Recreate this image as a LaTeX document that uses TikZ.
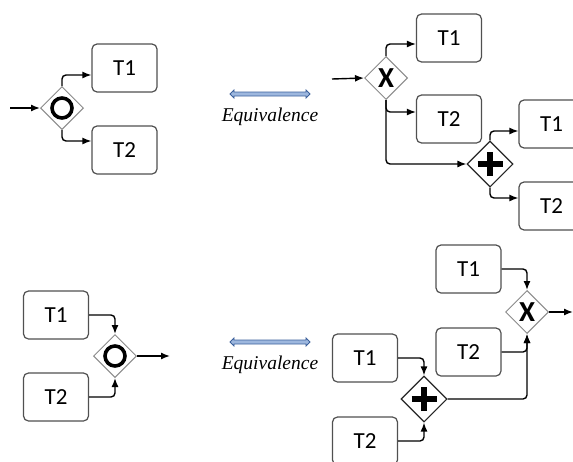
\documentclass[tikz,border=0pt]{standalone}
\usepackage{fontspec}
\setsansfont{Carlito}
\newfontfamily\eqfont{Liberation Serif}
\usetikzlibrary{arrows.meta, positioning, shapes.geometric, shapes.arrows}

\definecolor{boxline}{HTML}{505050}
\definecolor{gwline}{HTML}{8A8A8A}
\definecolor{eqfill}{HTML}{9DB7DE}
\definecolor{eqline}{HTML}{3C619C}

\begin{document}
\begin{tikzpicture}[
  x=1pt, y=-1pt,
  task/.style={rectangle, draw=boxline, line width=1.2pt, rounded corners=5pt,
               fill=white, minimum width=65pt, minimum height=48pt,
               font=\sffamily\fontsize{23}{23}\selectfont, inner sep=0pt},
  gw/.style={diamond, draw=gwline, line width=1pt, fill=white, aspect=1,
             minimum width=43pt, minimum height=43pt, inner sep=0pt},
  orgw/.style={gw, path picture={
               \draw[black, line width=3.6pt] (path picture bounding box.center) circle[radius=10pt];}},
  xorgw/.style={gw, font=\sffamily\bfseries\fontsize{29}{29}\selectfont},
  andgw/.style={gw, draw=black!85, line width=1.1pt, minimum width=46pt, minimum height=46pt,
               path picture={
               \draw[black, line width=6pt] ([xshift=-12.5pt]path picture bounding box.center)
                  -- ([xshift=12.5pt]path picture bounding box.center);
               \draw[black, line width=6pt] ([yshift=-12pt]path picture bounding box.center)
                  -- ([yshift=12pt]path picture bounding box.center);}},
  eqarrow/.style={double arrow, draw=eqline, fill=eqfill, line width=0.8pt,
                  minimum height=80pt, inner xsep=0pt, inner ysep=1.6pt,
                  double arrow head extend=2pt},
  eqtext/.style={font=\eqfont\itshape\fontsize{19.5}{19.5}\selectfont},
  flow/.style={draw, line width=1.4pt, rounded corners=4pt, -{Latex[length=9pt, width=7pt]}}
]
\useasboundingbox (0,0) rectangle (573,461);
\clip (0,0) rectangle (573,461);

% Top left: inclusive split
\coordinate (in1) at (10,108);
\node[orgw] (o1) at (62,108) {};
\node[task] (ta1) at (124.5,68) {T1};
\node[task] (ta2) at (124.5,150) {T2};

\draw[flow] (in1) -- (o1.west);
\draw[flow] (o1.north) |- ([yshift=-7pt]ta1.west);
\draw[flow] (o1.south) |- ([yshift=9pt]ta2.west);

% Equivalence (top)
\node[eqarrow] (eq1) at (270,94) {};
\node[eqtext, below=8pt of eq1] (eqt1) {Equivalence};

% Top right: exclusive split with parallel branch
\coordinate (in2) at (332,79);
\node[xorgw] (x1) at (386,78) {X};
\node[task] (tb1) at (449,38) {T1};
\node[task] (tb2) at (449,119) {T2};
\node[andgw] (a1) at (490,164) {};
\node[task] (tb3) at (551.5,124) {T1};
\node[task] (tb4) at (551.5,206) {T2};

\draw[flow] (in2) -- (x1.west);
\draw[flow] (x1.north) |- ([yshift=-6pt]tb1.west);
\draw[flow] (x1.south) |- ([yshift=7pt]tb2.west);
\draw[flow] (x1.south) |- (a1.west);
\draw[flow] (a1.north) |- ([yshift=-7pt]tb3.west);
\draw[flow] (a1.south) |- ([yshift=8pt]tb4.west);

% Bottom left: inclusive join
\node[task] (tc1) at (56,315) {T1};
\node[task] (tc2) at (56,397) {T2};
\node[orgw] (o2) at (115,356) {};
\coordinate (out1) at (170,356);

\draw[flow] (tc1.east) -| (o2.north);
\draw[flow] (tc2.east) -| (o2.south);
\draw[flow] (o2.east) -- (out1);

% Equivalence (bottom)
\node[eqarrow] (eq2) at (270,342) {};
\node[eqtext, below=8pt of eq2] (eqt2) {Equivalence};

% Bottom right: parallel join into exclusive join
\node[task] (td1) at (468.5,269) {T1};
\node[task] (td2) at (468.5,352) {T2};
\node[xorgw] (x2) at (527,312) {X};
\node[task] (te1) at (365,358) {T1};
\node[task] (te2) at (365,441) {T2};
\node[andgw] (a2) at (424,399) {};
\coordinate (out2) at (573,312);

\draw[flow] (td1.east) -| (x2.north);
\draw[flow] (td2.east) -| (x2.south);
\draw[flow] (te1.east) -| (a2.north);
\draw[flow] (te2.east) -| (a2.south);
\draw[flow] (a2.east) -| (x2.south);
\draw[flow] (x2.east) -- (out2);

\end{tikzpicture}
\end{document}
